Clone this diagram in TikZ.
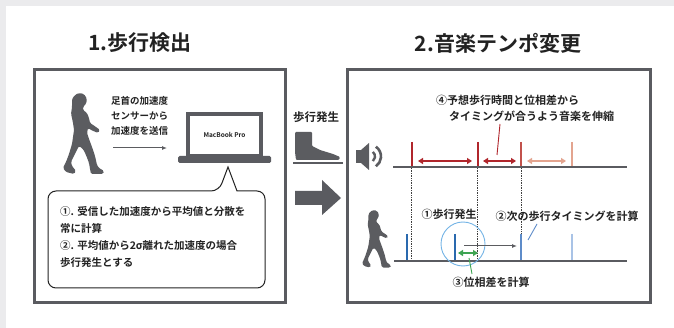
\documentclass[tikz,border=0pt]{standalone}
\usepackage{fontspec}
\setmainfont{Noto Sans CJK JP}[BoldFont={Noto Sans CJK JP Bold}]
\usetikzlibrary{arrows.meta}

\definecolor{bggrey}{HTML}{EBEBED}
\definecolor{framegrey}{HTML}{5A5B60}
\definecolor{ink}{HTML}{5B5C60}
\definecolor{textdark}{HTML}{222222}
\definecolor{beatred}{HTML}{B0262C}
\definecolor{beatmid}{HTML}{C2524C}
\definecolor{beatpale}{HTML}{E3A48F}
\definecolor{stepblue}{HTML}{2A69AE}
\definecolor{stepmid}{HTML}{5E8CC9}
\definecolor{steppale}{HTML}{A9C3E6}
\definecolor{ringblue}{HTML}{74B4E6}
\definecolor{phasegreen}{HTML}{3DA452}

% walking figure, 41 x 81 units, origin at top left
\newcommand{\walker}[2]{%
  \begin{scope}[shift={(#1)}, scale=#2]
    \fill[ink, rounded corners=1.4pt] (16,0) -- (21,1) -- (24,6) -- (23,11)
      -- (20,14) -- (20,17) -- (24,20) -- (26,25) -- (27,30) -- (33,34)
      -- (37,37) -- (35,40) -- (28,37) -- (25,35) -- (24,40) -- (26,46)
      -- (29,54) -- (32,63) -- (34,72) -- (36,75) -- (41,78) -- (40,81)
      -- (28,81) -- (27,76) -- (26,70) -- (23,62) -- (20,56) -- (16,53)
      -- (12,61) -- (8,69) -- (9,73) -- (13,78) -- (11,81) -- (3,79)
      -- (0,75) -- (3,69) -- (6,61) -- (9,51) -- (10,44) -- (11,37)
      -- (10,30) -- (9,25) -- (8,21) -- (9,14) -- (9,6) -- (12,2) -- cycle;
  \end{scope}}

\begin{document}
\begin{tikzpicture}[x=1pt, y=-1pt,
  frame/.style={draw=framegrey, line width=3pt},
  title/.style={font=\fontsize{21}{21}\selectfont\bfseries, text=textdark, inner sep=0pt},
  label/.style={font=\fontsize{11}{16}\selectfont\bfseries, text=textdark, inner sep=0pt},
  bar/.style={line width=2.5pt},
  axis/.style={draw=framegrey, line width=1.6pt},
  guide/.style={draw=black!75, densely dotted, line width=0.7pt},
  span/.style={line width=2pt, {Triangle[length=5pt,width=6pt]}-{Triangle[length=5pt,width=6pt]}},
  callout/.style={line width=0.9pt},
  feed/.style={draw=ink, line width=1pt, -{Latex[length=5pt,width=4pt]}},
]
  \fill[bggrey] (0,0) rectangle (674,328);
  \fill[white] (6,6) rectangle (674,328);
  \useasboundingbox (0,0) rectangle (674,328);

  \node[title] (detect) at (140,43) {1.歩行検出};
  \node[title] (tempo) at (498,43) {2.音楽テンポ変更};

  \draw[frame] (34,70) rectangle (285,303);
  \draw[frame] (347,70) rectangle (650,303);

  % --- step detection side
  \walker{63,93}{1}
  \node[label, font=\fontsize{9.5}{15}\selectfont\bfseries, align=left,
    anchor=north west] (sensor) at (111,96) {足首の加速度\\センサーから\\加速度を送信};
  \coordinate (send) at (113,148);
  \coordinate (recv) at (167,148);
  \draw[feed] (send) -- (recv);

  % laptop
  \draw[draw=framegrey, line width=4pt] (188,114) rectangle (261,156);
  \fill[framegrey, rounded corners=1.5pt] (178,156) rectangle (271,163);
  \node[font=\fontsize{6.5}{7}\selectfont\bfseries, text=textdark] (mac) at (224.5,135) {MacBook Pro};

  % speech bubble
  \coordinate (tip) at (228,167);
  \draw[line width=1pt, draw=textdark, fill=white] (tip) -- (237,191)
    [rounded corners=8pt] -- (265,191) -- (265,288) -- (48,288) -- (48,191)
    -- (219,191) [sharp corners] -- cycle;
  \node[label, font=\fontsize{10.5}{16.7}\selectfont\bfseries, align=left,
    anchor=west] (memo) at (60,237)
    {①. 受信した加速度から平均値と分散を\\常に計算\\②. 平均値から2σ離れた加速度の場合\\歩行発生とする};

  % --- hand-over between the two sides
  \node[label, font=\fontsize{11.5}{12}\selectfont\bfseries] (step) at (316,117) {歩行発生};
  \fill[ink, rounded corners=1pt] (295,132) -- (312,132) -- (312,146) -- (320,150)
    -- (333,154) -- (340,157) -- (339,160) -- (296,160) -- (295,152) -- cycle;
  \draw[draw=framegrey, line width=1.5pt] (293,163) -- (343,163);
  \fill[framegrey] (295,191) -- (322,191) -- (322,180) -- (341,198) -- (322,215)
    -- (322,205) -- (295,205) -- cycle;

  % --- music tempo side
  \fill[ink] (356,150) rectangle (361,163);
  \fill[ink] (361,150) -- (369,143) -- (369,170) -- (361,163) -- cycle;
  \draw[ink, line width=2.4pt] (369,156.5) ++(-50:6) arc[start angle=-50, end angle=50, radius=6];
  \draw[ink, line width=2.6pt] (369,156.5) ++(-55:12) arc[start angle=-55, end angle=55, radius=12];
  \walker{362,210}{0.71}

  \node[label, align=left, anchor=west] (stretch) at (436,108)
    {④予想歩行時間と位相差から\\\hspace*{13pt}タイミングが合うよう音楽を伸縮};

  \coordinate (music0) at (393,167);
  \coordinate (music1) at (627,167);
  \coordinate (walk0) at (394,261);
  \coordinate (walk1) at (627,261);

  % beat guides down to the step line
  \foreach \x [count=\i] in {411,477,521} {
    \coordinate (g\i) at (\x,168);
    \coordinate (g\i-end) at (\x,260);
    \draw[guide] (g\i) -- (g\i-end);
  }

  \foreach \x/\c [count=\i] in {412/beatred,478/beatred,521/beatmid,572/beatpale} {
    \coordinate (b\i) at (\x,142);
    \coordinate (b\i-foot) at (\x,166);
    \draw[bar, draw=\c] (b\i) -- (b\i-foot);
  }
  \foreach \a/\b/\c [count=\i] in {418/472/beatred,483/516/beatred,527/566/beatpale} {
    \coordinate (gap\i-l) at (\a,161);
    \coordinate (gap\i-r) at (\b,161);
    \draw[span, draw=\c] (gap\i-l) -- (gap\i-r);
  }
  \coordinate (stretch-pt) at (500,124);
  \draw[callout, draw=beatred] (stretch-pt) -- (497,155);

  \foreach \x/\c [count=\i] in {407/stepblue,455/stepblue,521/stepmid,572/steppale} {
    \coordinate (s\i) at (\x,234);
    \coordinate (s\i-foot) at (\x,260);
    \draw[bar, draw=\c] (s\i) -- (s\i-foot);
  }

  \draw[axis] (music0) -- (music1);
  \draw[axis] (walk0) -- (walk1);

  \node[circle, draw=ringblue, line width=0.9pt, minimum size=44pt, inner sep=0pt] (ring) at (463,244) {};
  \coordinate (now) at (464,246);
  \coordinate (next) at (517,246);
  \draw[feed] (now) -- (next);

  \coordinate (phase-l) at (458,253);
  \coordinate (phase-r) at (478,253);
  \draw[span, draw=phasegreen, line width=2.5pt] (phase-l) -- (phase-r);

  \node[label] (occur) at (449,214) {①歩行発生};
  \node[label] (predict) at (567,216) {②次の歩行タイミングを計算};
  \node[label] (diff) at (491,282) {③位相差を計算};

  \coordinate (predict-pt) at (537,224);
  \coordinate (diff-pt) at (472,274);
  \draw[callout, draw=stepmid] (predict-pt) -- (528,240);
  \draw[callout, draw=phasegreen] (469,258) -- (diff-pt);
\end{tikzpicture}
\end{document}
